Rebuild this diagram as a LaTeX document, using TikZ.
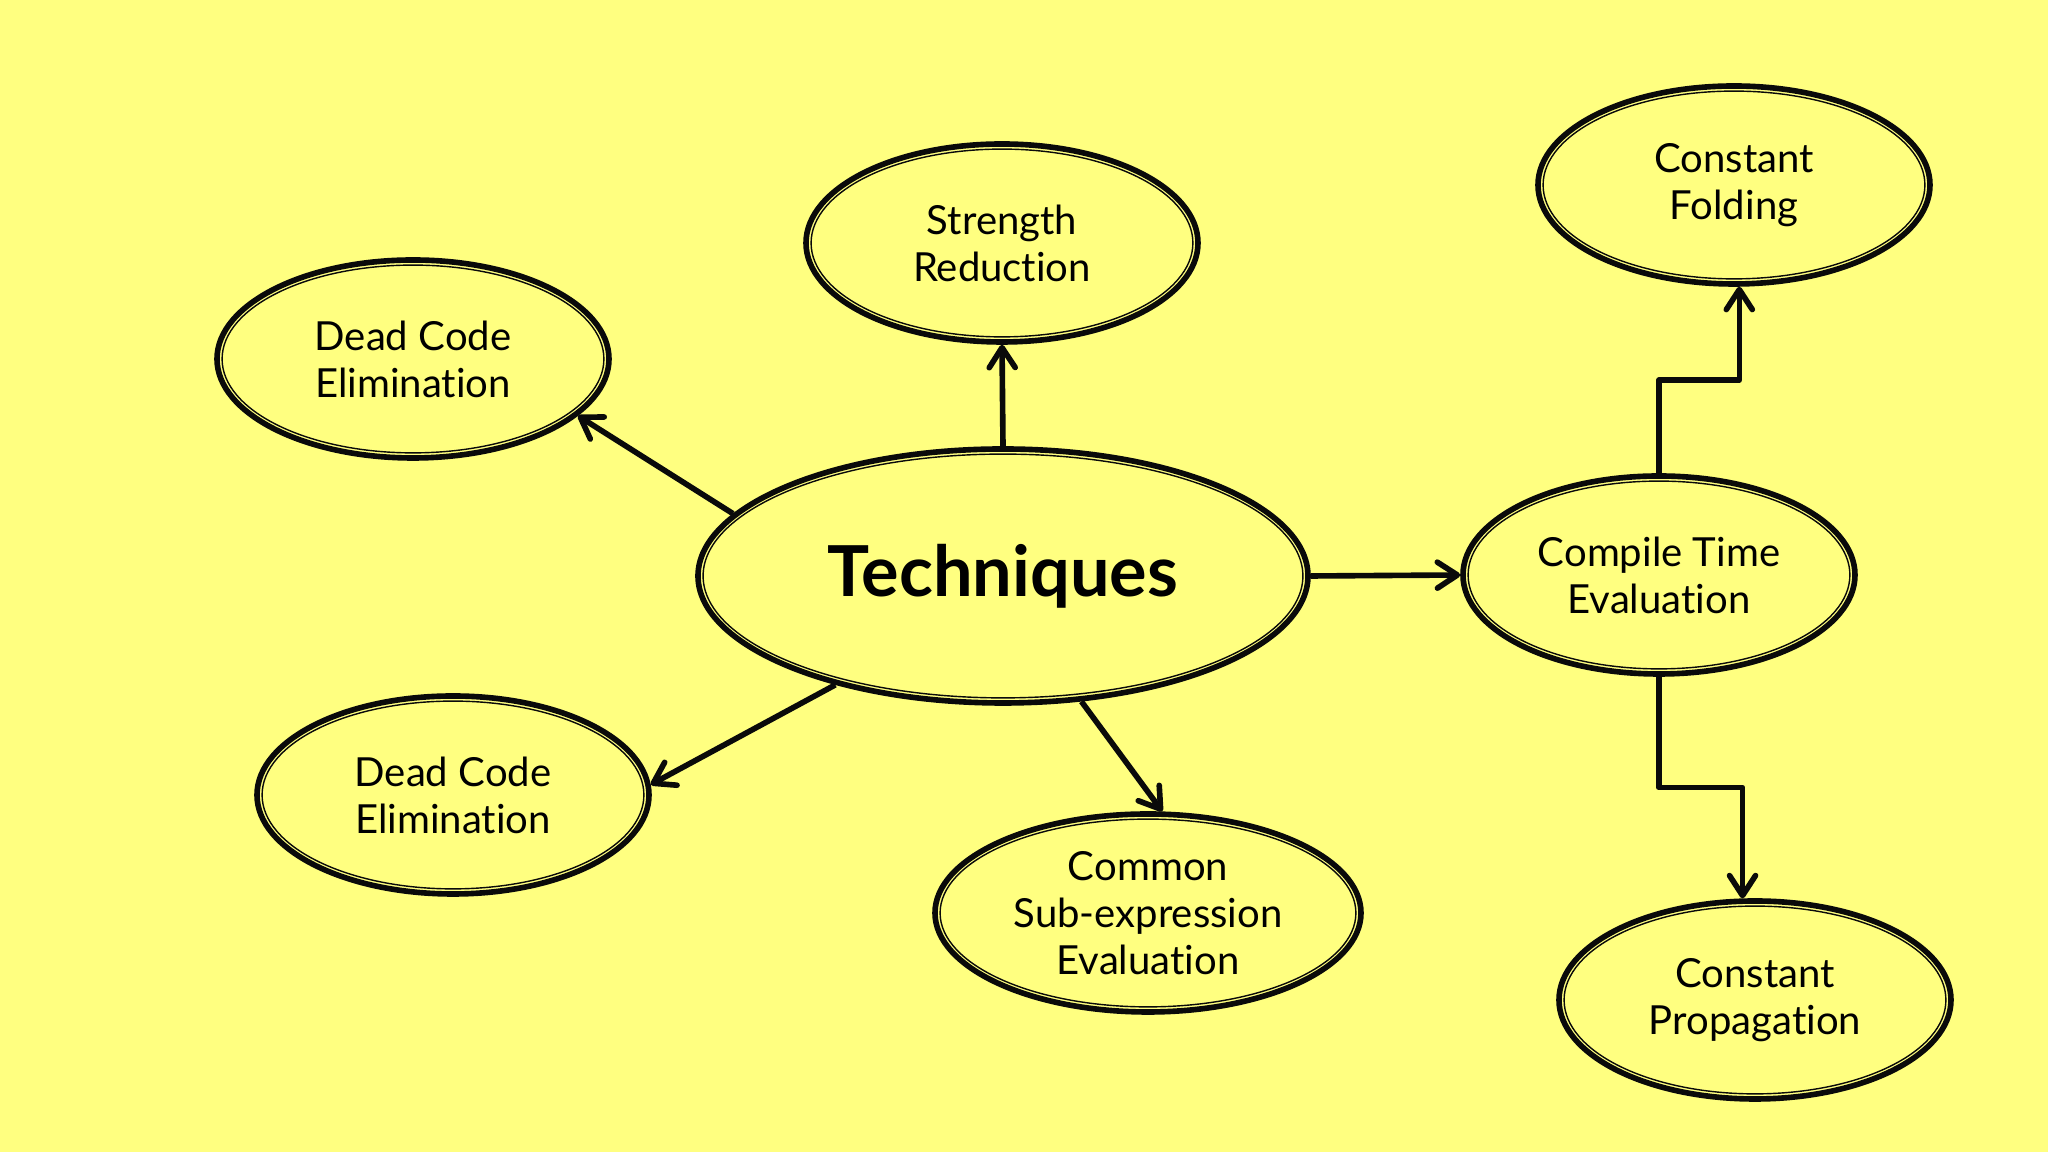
\documentclass[tikz,border=0pt]{standalone}
\usepackage{fontspec}
\setmainfont{Lato}[Ligatures=NoCommon]
\usetikzlibrary{calc,arrows.meta,shapes.geometric,positioning}
\definecolor{cBg}{HTML}{FFFF80}
\definecolor{cInk}{HTML}{0A0A0A}
\tikzset{
  topic/.style={ellipse,draw=cInk,line width=1.6pt,fill=cBg,inner sep=0pt,align=center,
    minimum width=3.92cm,minimum height=1.98cm,font=\fontsize{11.4}{13.4}\selectfont},
  hub/.style={topic,minimum width=6.1cm,minimum height=2.54cm,font=\fontsize{20}{24}\selectfont\bfseries},
  rim/.style={draw=cInk,line width=.4pt},
  arr/.style={-{Straight Barb[length=2mm,width=2.6mm,round]},line width=1.6pt,cInk},
}
\begin{document}
\begin{tikzpicture}[x=1cm,y=1cm]
  % page
  \fill[cBg] (0,0) rectangle (20.48,11.52);
  \useasboundingbox (0,0) rectangle (20.48,11.52);
  % centre
  \node[hub] (tech) at (10.03,5.76) {Techniques};
  % branches
  \node[topic] (sr) at (10.02,9.09) {Strength\\Reduction};
  \node[topic] (dce1) at (4.13,7.93) {Dead Code\\Elimination};
  \node[topic] (dce2) at (4.53,3.57) {Dead Code\\Elimination};
  \node[topic,minimum width=4.26cm] (cse) at (11.48,2.39) {Common\\Sub-expression\\Evaluation};
  \node[topic] (cte) at (16.59,5.77) {Compile Time\\Evaluation};
  \node[topic] (cf) at (17.34,9.67) {Constant\\Folding};
  \node[topic] (cp) at (17.55,1.52) {Constant\\Propagation};
  % inner rims
  \draw[rim] (tech.center) ellipse ({3.05cm-1.45pt} and {1.27cm-1.45pt});
  \foreach \n in {sr,dce1,dce2,cte,cf,cp}{
    \draw[rim] (\n.center) ellipse ({1.96cm-1.45pt} and {0.99cm-1.45pt});
  }
  \draw[rim] (cse.center) ellipse ({2.13cm-1.45pt} and {0.99cm-1.45pt});
  % connectors
  \draw[arr] (tech.north) -- (sr.south);
  \draw[arr] (tech.167) -- (dce1.-19);
  \draw[arr] (tech.213) -- (dce2.3);
  \draw[arr] (tech.-58) -- (cse.82);
  \draw[arr] (tech.east) -- (cte.west);
  \coordinate (up) at ($(cte.north)!.5!(cf.-87)$);
  \coordinate (dn) at ($(cte.south)!.5!(cp.97.5)$);
  \draw[arr,line join=round] (cte.north) |- (up) -| (cf.-87);
  \draw[arr,line join=round] (cte.south) |- (dn) -| (cp.97.5);
\end{tikzpicture}
\end{document}
